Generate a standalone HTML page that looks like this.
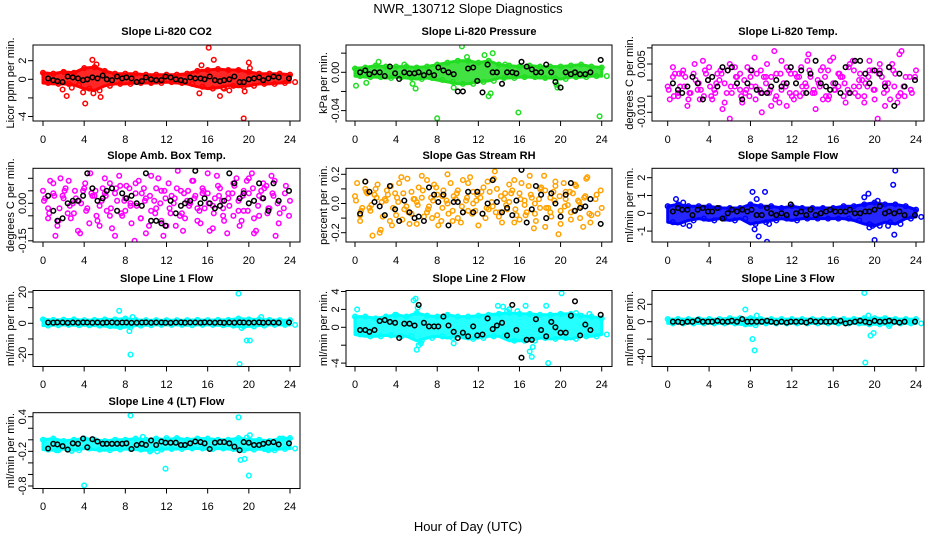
<!DOCTYPE html>
<html><head><meta charset="utf-8">
<style>
html,body{margin:0;padding:0;background:#fff;}
svg{display:block;font-family:"Liberation Sans",sans-serif;}
</style></head>
<body>
<svg id="chart" width="936" height="540" viewBox="0 0 936 540" xmlns="http://www.w3.org/2000/svg">
<rect x="0" y="0" width="936" height="540" fill="#fff"/>
<text x="468" y="13" font-size="13" text-anchor="middle">NWR_130712  Slope Diagnostics</text>
<text x="468" y="531" font-size="13" text-anchor="middle">Hour of Day (UTC)</text>
</svg>
<script>
const hours49=[0,0.5,1,1.5,2,2.5,3,3.5,4,4.5,5,5.5,6,6.5,7,7.5,8,8.5,9,9.5,10,10.5,11,11.5,12,12.5,13,13.5,14,14.5,15,15.5,16,16.5,17,17.5,18,18.5,19,19.5,20,20.5,21,21.5,22,22.5,23,23.5,24];
const blackHours=[0.5,1.0,1.4,1.9,2.4,2.9,3.4,3.9,4.3,4.8,5.3,5.8,6.2,6.7,7.2,7.7,8.1,8.6,9.1,9.6,10.0,10.5,11.0,11.5,11.9,12.4,12.9,13.4,13.8,14.3,14.8,15.3,15.7,16.2,16.7,17.2,17.6,18.1,18.6,19.1,19.5,20.0,20.5,21.0,21.4,21.9,22.4,22.9,23.9];
const hoursC=[0.2,0.7,1.2,1.7,2.2,2.6,3.1,3.6,4.1,4.6,5.1,5.5,6.0,6.5,7.0,7.4,7.9,8.4,8.9,9.3,9.8,10.3,10.8,11.2,11.7,12.2,12.7,13.1,13.6,14.1,14.6,15.0,15.5,16.0,16.5,16.9,17.4,17.9,18.4,18.8,19.3,19.8,20.3,20.7,21.2,21.7,22.2,22.6,23.6];
const hoursD=[0.1,0.6,1.1,1.6,2.1,2.7,3.2,3.7,4.2,4.7,5.2,5.7,6.1,6.6,7.1,7.6,8.0,8.5,9.0,9.5,9.9,10.4,10.9,11.4,11.8,12.3,12.8,13.3,13.7,14.2,14.7,15.2,15.6,16.1,16.6,17.1,17.5,18.0,18.5,19.0,19.4,19.9,20.4,20.9,21.3,21.8,22.3,22.8,23.4];
const hours25=[0,1,2,3,4,5,6,7,8,9,10,11,12,13,14,15,16,17,18,19,20,21,22,23,24];
const xTicks=[0,4,8,12,16,20,24];

// CO2
const co2Lo=[-0.4,-0.5,-0.5,-0.6,-1.0,-1.2,-0.7,-0.5,-0.5,-0.4,-0.4,-0.4,-0.3,-0.4,-0.5,-0.8,-1.0,-0.9,-0.7,-0.8,-0.7,-0.5,-0.5,-0.4,-0.3];
const co2Hi=[0.7,0.6,0.8,0.7,1.2,1.3,0.9,0.6,0.6,0.6,0.5,0.5,0.5,0.5,0.6,0.9,1.0,1.1,1.0,1.0,0.8,0.6,0.6,0.6,0.5];
const co2OutX=[1.9,2.3,4.1,3.9,4.8,4.9,5.2,5.6,15.2,15.4,16.1,16.6,17.2,18.1,19.5,19.6,20.0,20.1,2.8,17.6];
const co2OutY=[-1.1,-1.8,-2.6,-1.4,2.1,-1.5,1.6,-1.9,-1.5,1.5,3.4,2.1,-1.8,-1.2,-4.2,-1.3,1.8,1.2,-0.9,-1.0];
const co2Black=[0.1,-0.1,-0.2,-0.3,0.3,0.2,0.1,-0.1,0.0,0.2,0.1,0.4,0.0,-0.1,0.3,0.1,0.2,0.1,-0.3,-0.2,0.2,0.0,-0.1,-0.1,0.3,0.2,0.0,-0.1,-0.2,0.2,0.1,0.1,0.0,0.3,-0.1,-0.2,-0.1,0.0,0.3,-0.3,-0.3,0.0,0.1,0.2,-0.1,0.1,0.3,0.2,0.1];
// Pressure
const prLo=[-0.004,-0.005,-0.005,-0.006,-0.005,-0.006,-0.007,-0.006,-0.008,-0.01,-0.012,-0.012,-0.01,-0.009,-0.006,-0.006,-0.005,-0.005,-0.006,-0.006,-0.007,-0.005,-0.005,-0.004,-0.004];
const prHi=[0.004,0.005,0.007,0.006,0.006,0.006,0.005,0.006,0.008,0.01,0.012,0.012,0.01,0.012,0.008,0.007,0.006,0.007,0.006,0.006,0.006,0.007,0.008,0.006,0.005];
const prOutX=[0.1,1.1,2.3,4.8,5.6,5.9,8.0,9.6,10.4,10.9,12.6,13.0,13.4,14.6,15.9,19.6,19.7,23.8,13.2];
const prOutY=[-0.014,-0.011,0.011,0.008,-0.012,-0.017,-0.048,-0.016,0.027,0.016,0.018,-0.025,0.020,0.008,-0.042,-0.013,-0.016,-0.046,-0.022];
const prBlack=[0.0,0.002,-0.002,0.0,0.0,-0.004,0.006,-0.001,-0.007,0.0,-0.001,-0.001,0.0,-0.003,0.0,-0.003,0.005,0.002,0.0,-0.002,-0.020,-0.020,0.004,0.005,-0.009,-0.021,0.008,0.0,0.0,-0.012,0.0,0.0,-0.001,0.011,0.006,0.003,0.0,0.0,0.008,0.0,-0.010,-0.016,0.0,-0.002,0.0,-0.002,-0.002,0.0,0.013];
// Li-820 temp
const ltA=[-0.002,0.001,-0.004,0.003,-0.006,0.002,-0.001,-0.005,0.004,-0.003,0.000,-0.007,0.005,-0.002,0.002,-0.004,0.001,-0.006,0.003,-0.001,-0.008,0.002,-0.003,0.004,-0.005,0.001,-0.002,0.006,-0.004,0.000,-0.006,0.003,-0.001,0.002,-0.005,0.004,-0.002,0.000,-0.007,0.003,-0.003,0.005,-0.001,-0.006,0.002,-0.004,0.001,-0.003,0.003];
const ltB=[0.004,-0.005,0.002,-0.008,0.001,-0.003,0.006,0.000,-0.006,0.002,-0.009,0.003,-0.004,0.001,-0.007,0.004,-0.002,0.002,-0.010,0.005,0.001,-0.005,0.006,-0.008,0.002,-0.004,0.004,-0.002,0.001,-0.009,0.003,-0.005,0.006,-0.003,0.001,-0.007,0.005,-0.004,0.002,-0.001,0.006,-0.006,0.003,-0.008,0.004,-0.002,0.008,-0.005,0.001];
const ltC=[-0.006,0.002,-0.002,0.001,-0.004,0.005,-0.006,0.003,-0.002,-0.004,0.003,-0.001,-0.012,0.004,-0.003,0.000,-0.005,0.007,-0.003,0.001,-0.004,0.009,-0.007,-0.001,0.003,-0.006,0.001,-0.004,0.008,-0.003,-0.001,0.004,-0.006,0.007,-0.002,0.001,-0.003,0.006,-0.005,0.000,-0.002,0.003,-0.012,0.001,-0.003,0.005,-0.007,0.009,-0.004];
const ltD=[-0.003,-0.005,0.002,-0.002,-0.004,0.000,-0.003,0.002,-0.005,-0.001,0.002,-0.004,-0.002,0.001,-0.005,-0.003,0.003,-0.002,-0.004,0.001,-0.003,-0.006,0.002,-0.002,-0.004,0.002,-0.005,-0.001,0.003,-0.004,-0.002,0.001,-0.005,-0.003,0.002,-0.001,-0.004,0.003,-0.002,-0.005,0.001,-0.003,0.002,-0.004,-0.001,0.003,-0.005,-0.002,0.001];
const ltBlack=[-0.001,-0.003,-0.004,-0.002,0.001,-0.001,-0.006,0.000,0.001,-0.002,0.004,0.003,0.004,-0.001,-0.006,-0.001,0.003,-0.003,-0.004,-0.004,-0.002,0.000,-0.002,-0.001,0.004,-0.001,0.003,-0.004,0.002,0.006,-0.001,-0.002,-0.003,-0.001,-0.004,0.004,-0.004,0.006,0.006,0.002,-0.001,0.003,0.002,-0.002,0.004,-0.008,0.002,-0.002,0.000];
// Amb box temp
const abA=[0.05,-0.02,0.08,-0.07,0.02,0.09,-0.04,0.01,0.06,-0.08,0.03,-0.01,0.10,-0.05,0.04,0.07,-0.03,0.00,0.08,-0.06,0.02,0.11,-0.02,0.05,-0.09,0.03,0.06,-0.04,0.01,0.09,-0.07,0.04,0.12,-0.01,0.07,-0.05,0.02,0.08,-0.03,0.05,0.10,-0.06,0.03,0.06,-0.02,0.09,-0.04,0.04,0.01];
const abB=[-0.06,0.04,-0.09,0.03,-0.04,0.00,-0.11,0.05,-0.02,0.03,-0.07,0.06,-0.03,-0.10,0.01,-0.05,0.07,-0.08,-0.01,0.04,-0.12,-0.03,0.06,-0.07,0.02,-0.04,-0.09,0.05,-0.06,0.00,0.03,-0.08,-0.02,-0.11,0.02,0.06,-0.07,-0.01,0.07,-0.09,-0.03,0.04,-0.12,-0.05,0.08,-0.02,0.03,-0.08,-0.05];
const abC=[0.02,0.09,-0.13,0.10,0.06,-0.01,0.05,-0.12,0.08,0.12,0.05,-0.09,0.04,0.08,-0.13,0.11,0.01,0.06,-0.15,0.09,0.06,-0.09,0.01,0.10,-0.13,0.08,0.00,0.13,-0.11,0.05,0.09,-0.02,0.06,0.04,-0.10,0.11,0.01,-0.12,0.04,0.10,-0.07,0.09,0.12,-0.11,0.05,0.07,0.11,-0.13,0.07];
const abD=[0.01,-0.04,0.03,-0.02,0.05,-0.06,0.02,0.00,-0.03,0.04,-0.05,0.01,0.03,-0.02,0.06,-0.04,0.02,-0.01,0.04,-0.06,0.01,0.03,-0.04,0.00,0.05,-0.02,0.02,-0.05,0.04,-0.01,0.02,-0.03,0.05,0.00,-0.04,0.03,-0.02,0.04,-0.05,0.01,0.03,-0.03,0.06,-0.01,0.02,-0.04,0.04,0.00,-0.02];
const abBlack=[0.03,-0.03,-0.07,-0.06,0.00,0.01,0.01,0.03,0.12,0.06,0.01,0.02,0.05,0.06,-0.03,0.04,0.02,0.03,0.00,-0.01,0.12,-0.07,-0.07,-0.08,-0.09,0.01,-0.04,-0.01,0.00,0.01,0.13,0.00,0.02,0.00,-0.02,-0.01,0.01,0.12,0.08,0.02,0.04,0.00,0.01,0.08,0.02,-0.03,0.08,0.01,0.05];
// RH
const rhA=[0.05,-0.12,0.15,-0.05,0.10,-0.18,0.02,0.12,-0.08,0.18,-0.02,0.08,-0.14,0.04,0.16,-0.10,0.06,-0.03,0.20,-0.12,0.09,-0.06,0.14,0.00,-0.15,0.11,-0.04,0.17,-0.09,0.03,0.13,-0.13,0.07,-0.01,0.19,-0.07,0.10,-0.16,0.04,0.15,-0.05,0.08,-0.11,0.12,-0.02,0.17,-0.08,0.06,-0.03];
const rhB=[-0.08,0.10,-0.03,0.06,-0.20,0.03,-0.12,0.07,0.14,-0.04,-0.14,0.03,0.11,-0.09,-0.02,0.13,-0.15,0.09,-0.07,0.05,-0.10,0.16,-0.05,0.08,0.06,-0.07,0.15,-0.02,0.10,-0.13,-0.04,0.09,-0.08,0.14,-0.06,0.04,-0.12,0.11,-0.03,-0.09,0.12,-0.14,0.03,-0.06,0.13,-0.10,0.05,-0.13,0.09];
const rhC=[0.14,-0.03,0.07,-0.22,0.13,0.01,0.09,-0.15,0.04,-0.11,0.17,-0.07,0.01,0.19,-0.06,0.04,0.11,-0.12,0.02,0.14,0.03,-0.13,0.02,0.18,-0.05,0.04,-0.10,0.08,0.22,-0.06,0.07,0.01,0.16,-0.11,0.02,0.12,-0.17,0.03,0.19,-0.03,0.08,-0.21,0.14,-0.01,0.07,0.02,-0.16,0.18,-0.07];
const rhD=[0.02,-0.05,0.08,-0.01,0.04,-0.09,0.06,-0.03,0.01,0.07,-0.06,0.03,-0.01,0.09,-0.04,0.02,-0.08,0.05,0.00,-0.05,0.07,-0.02,0.04,-0.07,0.02,0.08,-0.03,0.01,-0.06,0.05,-0.01,0.07,-0.04,0.03,-0.08,0.06,0.00,-0.03,0.09,-0.06,0.02,0.05,-0.02,0.08,-0.05,0.01,0.04,-0.07,0.03];
const rhBlack=[-0.07,0.15,0.08,0.01,-0.02,-0.08,0.12,-0.04,-0.12,0.02,-0.06,-0.10,-0.09,-0.12,0.11,0.06,0.01,0.06,-0.15,0.01,0.01,-0.06,0.08,-0.06,0.08,-0.07,0.00,0.16,0.01,-0.06,-0.03,-0.08,0.02,0.23,-0.13,-0.04,0.12,0.06,-0.10,0.07,0.00,-0.09,0.06,0.14,-0.05,-0.03,-0.02,0.03,-0.14];
// Sample flow
const sfLo=[-0.5,-0.6,-0.4,-0.3,-0.4,-0.3,-0.4,-0.3,-0.6,-0.5,-0.4,-0.3,-0.4,-0.3,-0.3,-0.3,-0.3,-0.3,-0.4,-0.6,-0.7,-0.5,-0.6,-0.3,-0.2];
const sfHi=[0.4,0.5,0.4,0.4,0.4,0.3,0.3,0.3,0.5,0.4,0.4,0.3,0.4,0.3,0.3,0.3,0.3,0.4,0.4,0.5,0.6,0.5,0.5,0.4,0.2];
const sfOutX=[0.8,1.5,2.1,8.2,8.4,8.6,8.8,9.4,9.6,9.8,19.0,19.4,19.8,20.3,20.0,21.3,21.8,22.0,21.9,19.5];
const sfOutY=[0.8,0.6,-0.7,1.2,-0.9,0.8,-1.3,1.2,-1.6,-0.6,0.9,1.1,-0.7,0.7,-1.5,-0.7,1.6,2.4,-1.2,-0.8];
const sfBlack=[0.1,0.3,0.2,0.2,-0.1,0.2,0.3,0.1,0.1,0.3,-0.3,0.0,0.2,0.1,0.2,0.1,0.2,-0.1,-0.1,0.3,0.0,-0.1,0.0,-0.1,0.5,0.0,0.1,-0.1,0.2,-0.1,0.0,0.1,0.2,0.1,0.1,0.1,0.2,0.0,0.0,0.1,0.1,0.2,0.4,0.0,0.1,0.0,0.1,-0.1,-0.1];
// Line 1
const l1Lo=[-1.5,-1.2,-1.0,-1.2,-1.3,-1.5,-1.8,-2.5,-2.5,-1.5,-1.2,-1.0,-1.0,-1.0,-1.2,-1.0,-1.0,-1.2,-1.5,-2.0,-2.0,-1.5,-1.0,-1.0,-1.0];
const l1Hi=[2.5,2.2,2.3,2.5,2.0,2.2,2.5,2.5,3.0,2.2,2.0,2.0,2.0,2.0,2.0,2.2,2.0,2.2,2.2,3.0,2.5,2.5,2.2,2.0,2.0];
const l1OutX=[7.4,8.4,8.5,8.7,19.0,19.1,19.3,19.8,20.1,21.2];
const l1OutY=[8,-5,-20,4,19,-26,-3,-11,-11,4];
const l1Black=[0.5,0.4,0.6,0.5,0.3,0.5,0.4,0.6,0.5,0.4,0.5,0.3,0.5,0.6,0.4,0.5,0.5,0.3,0.4,0.5,0.6,0.4,0.5,0.5,0.4,0.3,0.5,0.6,0.4,0.5,0.5,0.4,0.6,0.5,0.4,0.5,0.3,0.5,0.4,0.6,0.5,0.4,0.5,0.6,0.4,0.5,0.5,0.4,0.6];
// Line 2
const l2Lo=[-0.8,-1.0,-1.0,-0.9,-1.0,-1.0,-1.5,-1.2,-1.0,-1.2,-1.0,-1.3,-1.2,-1.0,-1.0,-1.5,-1.5,-1.5,-1.2,-1.3,-1.2,-1.3,-1.0,-1.0,-0.8];
const l2Hi=[1.2,1.2,1.0,1.2,1.4,1.2,1.6,1.3,1.2,1.4,1.2,1.2,1.3,1.4,1.5,1.6,1.5,1.5,1.4,1.4,1.5,1.5,1.3,1.2,1.0];
const l2OutX=[0.2,0.3,5.7,5.9,6.0,6.2,6.4,6.1,9.6,13.9,14.4,15.0,15.8,16.6,17.0,17.2,17.3,18.6,18.8,20.1,21.5,22.8,14.8,3.9];
const l2OutY=[2.0,-0.7,3.0,3.2,-2.5,-2.0,-1.8,2.2,-1.8,2.4,2.3,2.0,1.8,2.4,-2.7,-3.3,-2.2,2.4,-4.0,3.8,1.6,1.5,1.8,1.4];
const l2Black=[-0.3,-0.3,-0.5,-0.3,0.7,0.8,0.6,0.5,-1.2,0.4,0.4,0.2,2.5,0.5,0.1,0.1,0.1,1.2,0.2,-0.5,-1.2,-0.6,-1.0,0.1,-0.9,-0.8,1.0,-0.2,0.2,0.5,-0.9,2.5,-0.3,-3.4,-1.4,-1.4,0.9,-0.3,-1.0,0.6,0.0,-0.6,-0.6,1.3,2.9,-0.9,0.3,-0.3,1.4];
// Line 3
const l3Lo=[-2,-2,-2,-2,-2,-2,-2,-3,-4,-2,-2,-2,-2,-2,-2,-2,-2,-2,-2,-3,-3,-3,-2,-2,-2];
const l3Hi=[3,3,3,3,3,3,4,4,4,3,3,3,3,3,3,3,3,3,3,4,4,4,3,3,3];
const l3OutX=[7.5,8.2,8.4,8.6,19.0,19.1,19.4,19.6,19.9,21.4];
const l3OutY=[14,-20,-33,7,33,-47,7,-16,-13,-5];
const l3Black=[0,0,-1,0,0,2,0,0,0,1,0,0,1,0,3,0,0,0,0,1,0,-1,0,-1,0,0,0,-1,1,0,0,0,0,0,1,-2,-1,0,1,0,-1,1,0,0,1,0,-1,0,0];
// Line 4
const l4Lo=[-0.17,-0.18,-0.16,-0.18,-0.15,-0.17,-0.18,-0.17,-0.16,-0.17,-0.18,-0.17,-0.16,-0.16,-0.15,-0.15,-0.16,-0.15,-0.16,-0.18,-0.17,-0.16,-0.18,-0.16,-0.15];
const l4Hi=[0.0,0.02,-0.02,0.0,0.02,0.0,-0.02,0.0,0.0,0.02,0.0,0.02,0.0,0.03,0.0,0.02,0.02,0.0,0.0,0.03,0.0,0.0,-0.02,0.02,0.03];
const l4OutX=[1.3,2.8,4.0,8.5,9.7,10.4,11.1,11.9,12.0,19.0,19.2,19.6,19.8,20.0,20.1,21.9,23.3];
const l4OutY=[-0.18,-0.19,-0.79,0.42,0.05,-0.2,-0.2,-0.5,0.03,0.39,-0.35,-0.33,0.04,-0.62,0.08,-0.18,0.02];
const l4Black=[-0.15,-0.07,-0.08,-0.11,-0.17,-0.06,-0.07,0.02,-0.13,0.01,-0.03,-0.07,-0.07,-0.07,-0.07,-0.07,-0.06,-0.16,-0.09,-0.07,-0.09,-0.01,-0.09,-0.03,-0.05,-0.05,-0.05,-0.09,-0.09,-0.06,-0.03,-0.04,-0.06,-0.16,-0.05,-0.04,-0.04,-0.06,-0.12,-0.18,-0.04,-0.05,-0.09,-0.09,-0.07,-0.05,-0.04,-0.08,-0.06];

const NS='http://www.w3.org/2000/svg';
const svg=document.getElementById('chart');
function mk(tag,attrs,parent){const e=document.createElementNS(NS,tag);for(const k in attrs)e.setAttribute(k,attrs[k]);(parent||svg).appendChild(e);return e;}

const cols=[{bx0:33,bx1:300,h0:43,h24:290,lab:22,tit:10},{bx0:346,bx1:612,h0:355,h24:601.7,lab:335,tit:323},{bx0:652,bx1:924,h0:667.7,h24:916,lab:641,tit:629}];
const rows=[{by0:45,by1:121,title:35,xl:139},{by0:168.3,by1:242,title:159,xl:260},{by0:290.5,by1:366.5,title:282,xl:384},{by0:412.7,by1:488.5,title:405,xl:506}];

const panels=[
 {name:'co2',title:'Slope Li-820 CO2',yl:'Licor ppm per min.',c:0,r:0,col:'#ff0000',v1:2,p1:60.7,v2:0,p2:79.3,ticks:[-4,-2,0,2],labels:['-4','','0','2'],band:[co2Lo,co2Hi],out:[co2OutX,co2OutY],black:co2Black},
 {name:'pressure',title:'Slope Li-820 Pressure',yl:'kPa per min.',c:1,r:0,col:'#22dd22',v1:0,p1:72.3,v2:-0.04,p2:110.6,ticks:[-0.04,-0.02,0,0.02],labels:['-0.04','','0.00',''],band:[prLo,prHi],out:[prOutX,prOutY],black:prBlack},
 {name:'li820-temp',title:'Slope Li-820 Temp.',yl:'degrees C per min.',c:2,r:0,col:'#ff00ff',v1:0.005,p1:64,v2:-0.010,p2:112.3,ticks:[-0.01,-0.005,0,0.005,0.01],labels:['-0.010','','','0.005',''],cloud:[ltA,ltB,ltC,ltD],black:ltBlack},
 {name:'amb-box-temp',title:'Slope Amb. Box Temp.',yl:'degrees C per min.',c:0,r:1,col:'#ff00ff',v1:0,p1:203.3,v2:-0.15,p2:240.8,ticks:[-0.15,-0.1,-0.05,0,0.05,0.1],labels:['-0.15','','','0.00','',''],cloud:[abA,abB,abC,abD],black:abBlack},
 {name:'gas-stream-rh',title:'Slope Gas Stream RH',yl:'percent per min.',c:1,r:1,col:'#ffa200',v1:0.2,p1:174.3,v2:-0.2,p2:232.7,ticks:[-0.2,-0.1,0,0.1,0.2],labels:['-0.2','','0.0','','0.2'],cloud:[rhA,rhB,rhC,rhD],black:rhBlack},
 {name:'sample-flow',title:'Slope Sample Flow',yl:'ml/min per min.',c:2,r:1,col:'#0000ff',v1:2,p1:177.7,v2:0,p2:213.3,ticks:[-1,0,1,2],labels:['-1','0','1','2'],band:[sfLo,sfHi],out:[sfOutX,sfOutY],black:sfBlack},
 {name:'line1-flow',title:'Slope Line 1 Flow',yl:'ml/min per min.',c:0,r:2,col:'#00ffff',v1:20,p1:292,v2:0,p2:323.3,ticks:[-20,-10,0,10,20],labels:['-20','','0','','20'],band:[l1Lo,l1Hi],out:[l1OutX,l1OutY],black:l1Black},
 {name:'line2-flow',title:'Slope Line 2 Flow',yl:'ml/min per min.',c:1,r:2,col:'#00ffff',v1:4,p1:291.5,v2:0,p2:327.3,ticks:[-4,-2,0,2,4],labels:['-4','','0','2','4'],band:[l2Lo,l2Hi],out:[l2OutX,l2OutY],black:l2Black},
 {name:'line3-flow',title:'Slope Line 3 Flow',yl:'ml/min per min.',c:2,r:2,col:'#00ffff',v1:20,p1:304.3,v2:0,p2:321.7,ticks:[-40,-20,0,20],labels:['-40','','0','20'],band:[l3Lo,l3Hi],out:[l3OutX,l3OutY],black:l3Black},
 {name:'line4-flow',title:'Slope Line 4 (LT) Flow',yl:'ml/min per min.',c:0,r:3,col:'#00ffff',v1:0.4,p1:416.7,v2:-0.8,p2:486,ticks:[-0.8,-0.6,-0.4,-0.2,0,0.2,0.4],labels:['-0.8','','','-0.2','','','0.4'],band:[l4Lo,l4Hi],out:[l4OutX,l4OutY],black:l4Black}
];

function circ(g,x,y,stroke,name){
  const e=mk('circle',{cx:x.toFixed(1),cy:y.toFixed(1),r:2.3,fill:'none',stroke:stroke,'stroke-width':1.5},g);
  
  
}

panels.forEach(p=>{
  const C=cols[p.c],R=rows[p.r];
  const xs=h=>C.h0+(C.h24-C.h0)*h/24;
  const ys=v=>p.p2+(v-p.v2)*(p.p1-p.p2)/(p.v1-p.v2);
  const g=mk('g',{});
  
  
  const t=mk('text',{x:(C.bx0+C.bx1)/2,y:R.title,'font-size':11,'font-weight':'bold','text-anchor':'middle'},g);
  t.textContent=p.title;
  
  
  const clipId='clip-'+p.name;
  const cp=mk('clipPath',{id:clipId},g);
  mk('rect',{x:C.bx0,y:R.by0,width:C.bx1-C.bx0,height:R.by1-R.by0},cp);
  const plot=mk('g',{'clip-path':'url(#'+clipId+')'},g);
  
  
  if(p.band){
    const lo=p.band[0],hi=p.band[1];
    let d='';
    hours25.forEach((h,i)=>{d+=(i?'L':'M')+xs(h).toFixed(1)+','+ys(hi[i]).toFixed(1);});
    for(let i=hours25.length-1;i>=0;i--){d+='L'+xs(hours25[i]).toFixed(1)+','+ys(lo[i]).toFixed(1);}
    const b=mk('path',{d:d+'Z',fill:p.col,'fill-opacity':0.85,stroke:p.col,'stroke-width':3,'stroke-linejoin':'round'},plot);
    
    
    hours25.forEach((h,i)=>{circ(plot,xs(h),ys(hi[i]),p.col,'point');circ(plot,xs(h+0.5),ys(lo[i]),p.col,'point');});
    p.out[0].forEach((h,i)=>circ(plot,xs(h),ys(p.out[1][i]),p.col,'outlier-point'));
  }
  if(p.cloud){
    const hs=[hours49,blackHours,hoursC,hoursD];
    p.cloud.forEach((arr,k)=>arr.forEach((v,i)=>circ(plot,xs(hs[k][i]),ys(v),p.col,'point')));
  }
  p.black.forEach((v,i)=>circ(plot,xs(blackHours[i]),ys(v),'#000','recent-point'));
  const bx=mk('rect',{x:C.bx0,y:R.by0,width:C.bx1-C.bx0,height:R.by1-R.by0,fill:'none',stroke:'#000','stroke-width':1},g);
  
  
  const xa=mk('g',{},g);
  
  
  mk('line',{x1:xs(0),x2:xs(24),y1:R.by1,y2:R.by1,stroke:'#000'},xa);
  xTicks.forEach(h=>{
    mk('line',{x1:xs(h),x2:xs(h),y1:R.by1,y2:R.by1+5,stroke:'#000'},xa);
    const tl=mk('text',{x:xs(h),y:R.xl+4,'font-size':11,'text-anchor':'middle'},xa);
    tl.textContent=String(h);
    
    
  });
  const ya=mk('g',{},g);
  
  
  const tmin=p.ticks[0],tmax=p.ticks[p.ticks.length-1];
  mk('line',{x1:C.bx0,x2:C.bx0,y1:ys(tmin),y2:ys(tmax),stroke:'#000'},ya);
  p.ticks.forEach((v,i)=>{
    const y=ys(v);
    mk('line',{x1:C.bx0-5,x2:C.bx0,y1:y,y2:y,stroke:'#000'},ya);
    if(p.labels[i]){
      const tl=mk('text',{x:0,y:0,'font-size':11,'text-anchor':'middle',transform:'translate('+(C.lab+4)+','+y.toFixed(1)+') rotate(-90)'},ya);
      tl.textContent=p.labels[i];
      
      
    }
  });
  const yt=mk('text',{x:0,y:0,'font-size':11,'text-anchor':'middle',transform:'translate('+(C.tit+4)+','+((R.by0+R.by1)/2)+') rotate(-90)'},g);
  yt.textContent=p.yl;
  
  
});
</script>
</body></html>
